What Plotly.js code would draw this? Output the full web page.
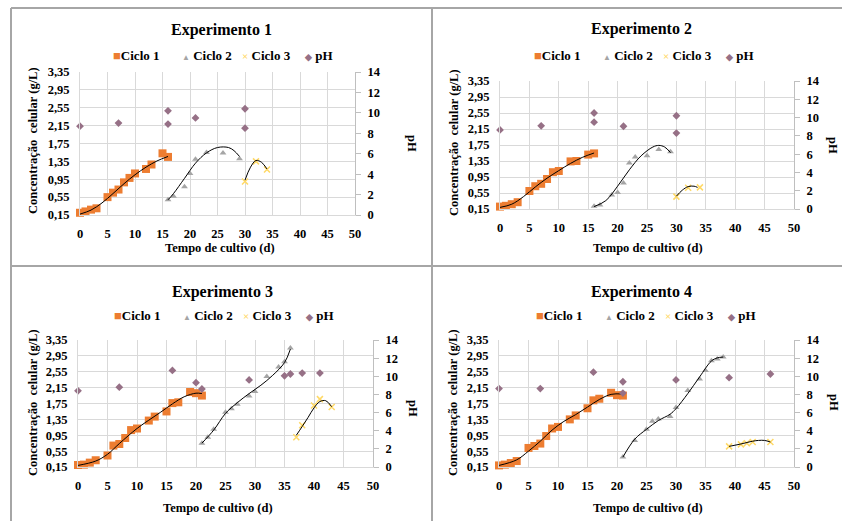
<!DOCTYPE html>
<html>
<head>
<meta charset="utf-8">
<script src="https://cdn.plot.ly/plotly-3.0.1.min.js"></script>
<style>
  html, body { margin: 0; padding: 0; background: #ffffff; }
  #chart { width: 842px; height: 521px; }
</style>
</head>
<body>
<div id="chart"></div>
<script>
// ---------------- text ----------------
const panelTitles = ['Experimento 1', 'Experimento 2', 'Experimento 3', 'Experimento 4'];
const seriesNames = ['Ciclo 1', 'Ciclo 2', 'Ciclo 3', 'pH'];
const xTitle = 'Tempo de cultivo (d)';
const yTitle = 'Concentração  celular (g/L)';
const y2Title = 'pH';

// ---------------- tick labels ----------------
const xTicks = [0, 5, 10, 15, 20, 25, 30, 35, 40, 45, 50];
const yTicks = [0.15, 0.55, 0.95, 1.35, 1.75, 2.15, 2.55, 2.95, 3.35];
const y2Ticks = [0, 2, 4, 6, 8, 10, 12, 14];

// ---------------- Experimento 1 ----------------
const e1c1Day = [0, 1, 2, 3, 5, 6, 7, 8, 9, 10, 12, 13, 15, 16];
const e1c1Val = [0.2, 0.23, 0.27, 0.3, 0.55, 0.65, 0.72, 0.88, 0.98, 1.08, 1.18, 1.28, 1.53, 1.45];
const e1c1TrendDay = [0, 2, 4, 6, 8, 10, 12, 14, 16];
const e1c1TrendVal = [0.17, 0.26, 0.42, 0.63, 0.85, 1.05, 1.22, 1.36, 1.46];
const e1c2Day = [16, 17, 19, 20, 21, 23, 26, 29];
const e1c2Val = [0.49, 0.57, 0.78, 1.08, 1.4, 1.55, 1.54, 1.41];
const e1c2TrendDay = [16, 17, 19, 21, 23, 25, 27, 28, 29];
const e1c2TrendVal = [0.49, 0.63, 0.97, 1.31, 1.54, 1.66, 1.66, 1.59, 1.46];
const e1c3Day = [30, 32, 34];
const e1c3Val = [0.9, 1.35, 1.17];
const e1c3TrendDay = [30, 31, 32, 33, 34];
const e1c3TrendVal = [0.93, 1.22, 1.37, 1.33, 1.18];
const e1pHDay = [0, 7, 16, 16, 21, 30, 30];
const e1pHVal = [8.7, 9.0, 10.2, 8.9, 9.5, 10.4, 8.5];

// ---------------- Experimento 2 ----------------
const e2c1Day = [0, 1, 2, 3, 5, 6, 7, 8, 9, 10, 12, 13, 15, 16];
const e2c1Val = [0.21, 0.23, 0.27, 0.32, 0.6, 0.72, 0.78, 0.9, 1.07, 1.1, 1.34, 1.35, 1.51, 1.54];
const e2c1TrendDay = [0, 2, 4, 6, 8, 10, 12, 14, 16];
const e2c1TrendVal = [0.19, 0.27, 0.46, 0.7, 0.92, 1.11, 1.29, 1.44, 1.55];
const e2c2Day = [16, 17, 19, 20, 21, 22, 23, 25, 27, 29];
const e2c2Val = [0.22, 0.25, 0.5, 0.56, 0.8, 1.3, 1.45, 1.48, 1.64, 1.58];
const e2c2TrendDay = [16, 18, 20, 22, 24, 26, 27, 28, 29];
const e2c2TrendVal = [0.21, 0.36, 0.72, 1.13, 1.48, 1.7, 1.74, 1.7, 1.56];
const e2c3Day = [30, 32, 34];
const e2c3Val = [0.46, 0.68, 0.69];
const e2c3TrendDay = [30, 31, 32, 33, 33.6];
const e2c3TrendVal = [0.47, 0.62, 0.71, 0.72, 0.69];
const e2pHDay = [0, 7, 16, 16, 21, 30, 30];
const e2pHVal = [8.65, 9.1, 10.5, 9.5, 9.05, 10.2, 8.3];

// ---------------- Experimento 3 ----------------
const e3c1Day = [0, 1, 2, 3, 5, 6, 7, 8, 9, 10, 12, 13, 15, 16, 17, 19, 20, 21];
const e3c1Val = [0.2, 0.21, 0.26, 0.32, 0.44, 0.69, 0.73, 0.88, 1.08, 1.12, 1.32, 1.42, 1.55, 1.76, 1.78, 2.04, 2.01, 1.95];
const e3c1TrendDay = [0, 3, 5, 7, 10, 12, 14, 16, 18, 20, 21];
const e3c1TrendVal = [0.19, 0.3, 0.47, 0.74, 1.12, 1.33, 1.53, 1.74, 1.92, 2.01, 2.0];
const e3c2Day = [21, 22, 23, 25, 26, 27, 29, 30, 32, 34, 35, 36];
const e3c2Val = [0.75, 0.9, 1.1, 1.53, 1.62, 1.73, 1.94, 2.05, 2.43, 2.67, 2.8, 3.15];
const e3c2TrendDay = [21, 23, 25, 27, 29, 31, 33, 35, 36];
const e3c2TrendVal = [0.75, 1.08, 1.5, 1.77, 2.0, 2.21, 2.46, 2.78, 3.12];
const e3c3Day = [37, 38, 40, 41, 43];
const e3c3Val = [0.9, 1.2, 1.7, 1.86, 1.66];
const e3c3TrendDay = [37, 38, 39, 40, 41, 42, 43];
const e3c3TrendVal = [0.95, 1.17, 1.4, 1.64, 1.8, 1.82, 1.67];
const e3pHDay = [0, 7, 16, 20, 21, 29, 35, 36, 38, 41];
const e3pHVal = [8.4, 8.8, 10.65, 9.3, 8.6, 9.6, 10.05, 10.25, 10.35, 10.35];

// ---------------- Experimento 4 ----------------
const e4c1Day = [0, 1, 2, 3, 5, 6, 7, 8, 9, 10, 12, 13, 15, 16, 17, 19, 20, 21];
const e4c1Val = [0.19, 0.21, 0.25, 0.3, 0.63, 0.68, 0.74, 0.93, 1.12, 1.16, 1.35, 1.45, 1.63, 1.83, 1.87, 2.02, 1.96, 1.95];
const e4c1TrendDay = [0, 3, 5, 7, 9, 11, 13, 15, 17, 19, 21];
const e4c1TrendVal = [0.19, 0.33, 0.55, 0.8, 1.08, 1.3, 1.47, 1.66, 1.85, 1.98, 1.99];
const e4c2Day = [21, 23, 25, 26, 27, 29, 30, 32, 34, 35, 36, 37, 38];
const e4c2Val = [0.4, 0.82, 1.1, 1.3, 1.36, 1.42, 1.65, 2.08, 2.37, 2.58, 2.83, 2.87, 2.92];
const e4c2TrendDay = [21, 23, 25, 27, 29, 30, 32, 34, 36, 37, 38];
const e4c2TrendVal = [0.4, 0.85, 1.1, 1.32, 1.48, 1.62, 2.0, 2.42, 2.82, 2.9, 2.92];
const e4c3Day = [39, 41, 42, 43, 46];
const e4c3Val = [0.67, 0.72, 0.75, 0.78, 0.78];
const e4c3TrendDay = [39, 41, 43, 44, 45, 46];
const e4c3TrendVal = [0.67, 0.73, 0.8, 0.82, 0.82, 0.78];
const e4pHDay = [0, 7, 16, 21, 21, 30, 39, 46];
const e4pHVal = [8.65, 8.65, 10.45, 9.4, 8.15, 9.6, 9.85, 10.25];

// ---------------- assembly ----------------
const experiments = [
  { c1: [e1c1Day, e1c1Val], t1: [e1c1TrendDay, e1c1TrendVal], c2: [e1c2Day, e1c2Val], t2: [e1c2TrendDay, e1c2TrendVal], c3: [e1c3Day, e1c3Val], t3: [e1c3TrendDay, e1c3TrendVal], ph: [e1pHDay, e1pHVal] },
  { c1: [e2c1Day, e2c1Val], t1: [e2c1TrendDay, e2c1TrendVal], c2: [e2c2Day, e2c2Val], t2: [e2c2TrendDay, e2c2TrendVal], c3: [e2c3Day, e2c3Val], t3: [e2c3TrendDay, e2c3TrendVal], ph: [e2pHDay, e2pHVal] },
  { c1: [e3c1Day, e3c1Val], t1: [e3c1TrendDay, e3c1TrendVal], c2: [e3c2Day, e3c2Val], t2: [e3c2TrendDay, e3c2TrendVal], c3: [e3c3Day, e3c3Val], t3: [e3c3TrendDay, e3c3TrendVal], ph: [e3pHDay, e3pHVal] },
  { c1: [e4c1Day, e4c1Val], t1: [e4c1TrendDay, e4c1TrendVal], c2: [e4c2Day, e4c2Val], t2: [e4c2TrendDay, e4c2TrendVal], c3: [e4c3Day, e4c3Val], t3: [e4c3TrendDay, e4c3TrendVal], ph: [e4pHDay, e4pHVal] }
];

const W = 842, H = 521;
const px = v => v / W;
const py = v => 1 - v / H;

// plot-area pixel boxes [left, right, top, bottom] and text anchors
const boxes = [
  { l: 80,  r: 355, t: 72,  b: 215, title: [221, 30],  legend: [220, 55],  xt: [220, 248], yt: [33, 141],  pt: [412, 143] },
  { l: 500, r: 794, t: 81,  b: 209, title: [641, 29],  legend: [641, 55],  xt: [648, 248], yt: [454, 143], pt: [833, 145] },
  { l: 78,  r: 373, t: 340, b: 467, title: [222, 292], legend: [221, 315], xt: [218, 508], yt: [33, 403],  pt: [413, 408] },
  { l: 499, r: 794, t: 340, b: 467, title: [641, 292], legend: [643, 315], xt: [648, 508], yt: [453, 403], pt: [834, 402] }
];

const FONT = 'Liberation Serif';
const colors = { c1: '#ED7D31', c2: '#A5A5A5', c3: '#FFD966', ph: '#967086' };

const traces = [];
const layout = {
  width: W, height: H,
  margin: { l: 0, r: 0, t: 0, b: 0 },
  paper_bgcolor: '#ffffff', plot_bgcolor: '#ffffff',
  showlegend: false,
  separators: ', ',
  font: { family: FONT, size: 12, color: '#000000' },
  annotations: [], shapes: []
};

experiments.forEach((ex, i) => {
  const n = i + 1;
  const xa = n === 1 ? 'x' : 'x' + n;
  const yl = 'y' + (2 * i + 1 === 1 ? '' : (2 * i + 1));
  const yr = 'y' + (2 * i + 2);
  const b = boxes[i];
  const xdom = [px(b.l), px(b.r)];
  const ydom = [py(b.b), py(b.t)];

  const tick = { family: FONT, size: 12.5, color: '#000000', weight: 'bold' };
  layout['xaxis' + (n === 1 ? '' : n)] = {
    domain: xdom, anchor: yl, range: [0, 50],
    tickvals: xTicks, showgrid: true, gridcolor: '#D9D9D9', gridwidth: 1,
    zeroline: false, showline: true, linecolor: '#D9D9D9', linewidth: 1,
    ticks: '', tickfont: tick, ticklabelstandoff: 7, fixedrange: true
  };
  layout['yaxis' + (2 * i + 1 === 1 ? '' : (2 * i + 1))] = {
    domain: ydom, anchor: xa, range: [0.15, 3.35],
    tickvals: yTicks, tickformat: '.2f', showgrid: true, gridcolor: '#D9D9D9', gridwidth: 1,
    zeroline: false, showline: true, linecolor: '#D9D9D9',
    ticks: '', tickfont: tick, ticklabelstandoff: 7, fixedrange: true
  };
  layout['yaxis' + (2 * i + 2)] = {
    domain: ydom, anchor: xa, overlaying: yl, side: 'right', range: [0, 14],
    tickvals: y2Ticks, showgrid: false, zeroline: false,
    showline: true, linecolor: '#BFBFBF', linewidth: 1,
    ticks: 'outside', ticklen: 5, tickcolor: '#BFBFBF',
    tickfont: tick, ticklabelstandoff: 4, fixedrange: true
  };

  const base = { xaxis: xa, yaxis: yl, cliponaxis: false, hoverinfo: 'x+y' };
  traces.push(Object.assign({}, base, { type: 'scatter', mode: 'markers', name: seriesNames[0], x: ex.c1[0], y: ex.c1[1],
    marker: { symbol: 'square', size: 8, color: colors.c1 } }));
  traces.push(Object.assign({}, base, { type: 'scatter', mode: 'markers', name: seriesNames[1], x: ex.c2[0], y: ex.c2[1],
    marker: { symbol: 'triangle-up', size: 6, color: colors.c2 } }));
  traces.push(Object.assign({}, base, { type: 'scatter', mode: 'markers', name: seriesNames[2], x: ex.c3[0], y: ex.c3[1],
    marker: { symbol: 'x-thin-open', size: 6, color: colors.c3, line: { color: colors.c3, width: 1.5 } } }));
  ['t1', 't2', 't3'].forEach(k => {
    traces.push(Object.assign({}, base, { type: 'scatter', mode: 'lines', name: 'Tendência', x: ex[k][0], y: ex[k][1],
      line: { color: '#000000', width: 1, shape: 'spline', smoothing: 1 }, hoverinfo: 'skip' }));
  });
  traces.push({ type: 'scatter', mode: 'markers', name: seriesNames[3], xaxis: xa, yaxis: yr, cliponaxis: false,
    x: ex.ph[0], y: ex.ph[1], marker: { symbol: 'diamond', size: 6, color: colors.ph } });

  const ann = layout.annotations;
  const common = { xref: 'paper', yref: 'paper', showarrow: false };
  const bold = (s) => ({ family: FONT, size: s, color: '#000000', weight: 'bold' });
  ann.push(Object.assign({}, common, { x: px(b.title[0]), y: py(b.title[1]), xanchor: 'center', yanchor: 'middle',
    text: panelTitles[i], font: bold(16) }));
  ann.push(Object.assign({}, common, { x: px(b.xt[0]), y: py(b.xt[1]), xanchor: 'center', yanchor: 'middle',
    text: xTitle, font: bold(12.5) }));
  ann.push(Object.assign({}, common, { x: px(b.yt[0]), y: py(b.yt[1]), xanchor: 'center', yanchor: 'middle', textangle: -90,
    text: yTitle, font: bold(12.5) }));
  ann.push(Object.assign({}, common, { x: px(b.pt[0]), y: py(b.pt[1]), xanchor: 'center', yanchor: 'middle', textangle: 90,
    text: y2Title, font: bold(12.5) }));

  // legend row (symbol glyph + label)
  const glyphs = [
    '<span style="color:' + colors.c1 + ';font-size:13px">■</span>',
    '<span style="color:' + colors.c2 + ';font-size:8px">▲</span> ',
    '<span style="color:' + colors.c3 + ';font-size:11px">×</span> ',
    '<span style="color:' + colors.ph + ';font-size:9px">◆</span> '
  ];
  const offsets = [-109, -40, 20, 82];
  seriesNames.forEach((s, k) => {
    ann.push(Object.assign({}, common, { x: px(b.legend[0] + offsets[k]), y: py(b.legend[1]), xanchor: 'left', yanchor: 'middle',
      text: glyphs[k] + s, font: bold(13) }));
  });
});

// panel frame lines
const frame = { type: 'line', xref: 'paper', yref: 'paper', line: { color: '#A6A6A6', width: 2 } };
layout.shapes.push(Object.assign({}, frame, { x0: px(11), x1: px(842), y0: py(8), y1: py(8) }));
layout.shapes.push(Object.assign({}, frame, { x0: px(11), x1: px(11), y0: py(8), y1: py(521) }));
layout.shapes.push(Object.assign({}, frame, { x0: px(432), x1: px(432), y0: py(8), y1: py(521) }));
layout.shapes.push(Object.assign({}, frame, { x0: px(11), x1: px(842), y0: py(266), y1: py(266) }));

Plotly.newPlot('chart', traces, layout, { staticPlot: true, displayModeBar: false });
</script>
</body>
</html>
